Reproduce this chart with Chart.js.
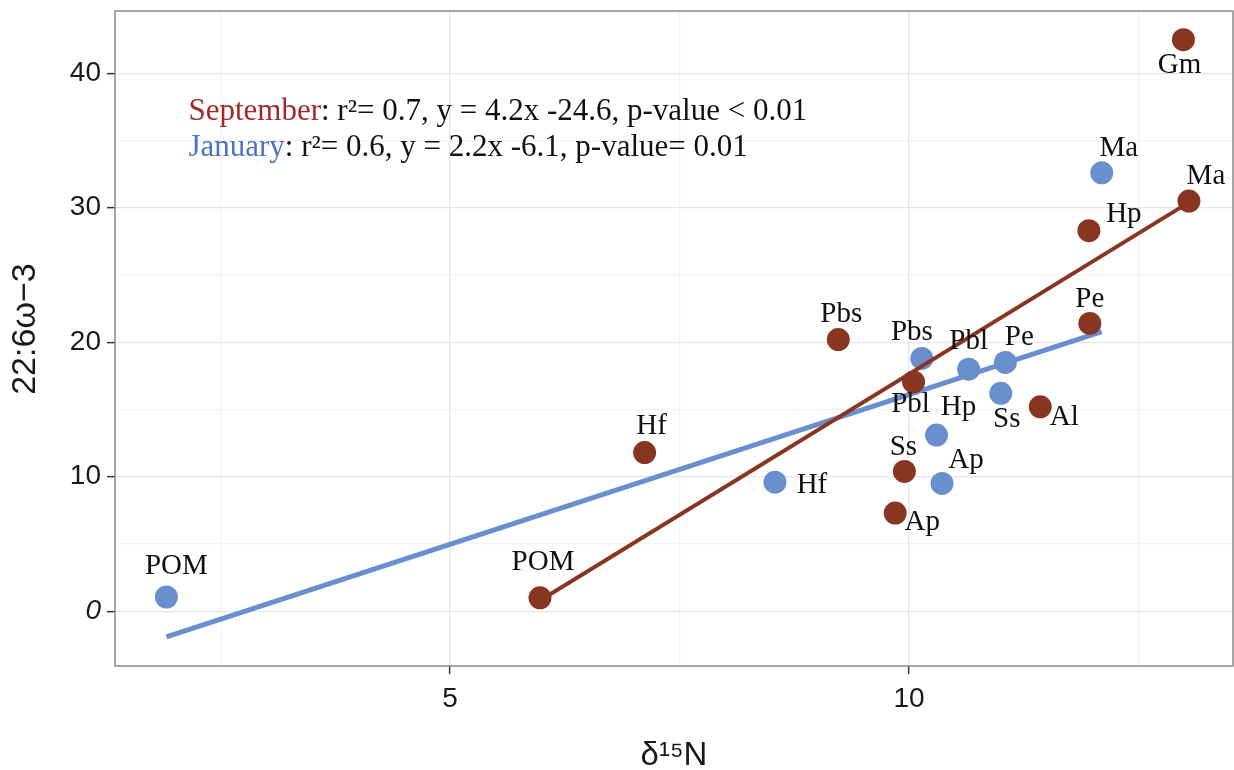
<!DOCTYPE html>
<html>
<head>
<meta charset="utf-8">
<script src="https://cdn.jsdelivr.net/npm/chart.js@4.4.1/dist/chart.umd.min.js"></script>
<style>
  html, body { margin: 0; padding: 0; background: #fff; }
  #wrap { width: 1234px; height: 770px; }
</style>
</head>
<body>
<div id="wrap"><canvas id="c" width="1234" height="770"></canvas></div>
<script>
// values
const sepLabels = ["POM", "Hf", "Pbs", "Pbl", "Ss", "Ap", "Al", "Pe", "Hp", "Ma", "Gm"];
const sepN15 = [5.98, 7.12, 9.23, 10.05, 9.95, 9.85, 11.43, 11.97, 11.96, 13.05, 12.99];
const sepDHA = [1.0, 11.8, 20.2, 17.05, 10.4, 7.3, 15.2, 21.4, 28.3, 30.5, 42.5];

const janLabels = ["POM", "Hf", "Pbs", "Pbl", "Pe", "Ss", "Hp", "Ap", "Ma"];
const janN15 = [1.91, 8.54, 10.14, 10.65, 11.05, 11.0, 10.3, 10.36, 12.1];
const janDHA = [1.06, 9.6, 18.8, 18.0, 18.5, 16.2, 13.1, 9.5, 32.6];

// fitted lines (end points as drawn)
const sepFitX = [5.98, 13.05];
const sepFitY = [0.8, 30.4];
const janFitX = [1.91, 12.1];
const janFitY = [-1.9, 20.8];

const xMajor = [5, 10];
const xMinor = [2.5, 7.5, 12.5];
const yMajor = [0, 10, 20, 30, 40];
const yMinor = [5, 15, 25, 35];

const sepStats = ": r\u00B2= 0.7, y = 4.2x -24.6, p-value < 0.01";
const janStats = ": r\u00B2= 0.6, y = 2.2x -6.1, p-value= 0.01";

// label placement (text centre dx, baseline dy, px from the point)
const sepLabelOff = [[3, -28], [7, -19], [3, -18], [-3, 30], [-1, -16], [27, 17], [24, 18], [0, -16], [35, -9], [17, -17], [-4, 33]];
const janLabelOff = [[10, -23], [37, 11], [-10, -18], [0, -20], [14, -17], [6, 34], [22, -20], [24, -15], [17, -17]];

const RED = "#883622";
const BLUE = "#6A8FCE";
const SANS = "'Liberation Sans', Arial, sans-serif";
const SERIF = "'Liberation Serif', 'Times New Roman', serif";

const toXY = (xs, ys) => xs.map((x, i) => ({ x: x, y: ys[i] }));

const pointLabels = {
  id: "pointLabels",
  afterDatasetsDraw(chart) {
    const ctx = chart.ctx;
    ctx.save();
    ctx.font = "29px " + SERIF;
    ctx.fillStyle = "#111";
    ctx.textAlign = "center";
    ctx.textBaseline = "alphabetic";
    chart.data.datasets.forEach((ds, di) => {
      if (!ds.pointNames) return;
      const meta = chart.getDatasetMeta(di);
      meta.data.forEach((el, i) => {
        const off = ds.labelOff[i];
        ctx.fillText(ds.pointNames[i], el.x + off[0], el.y + off[1]);
      });
    });

    // regression text
    const xs = chart.scales.x, ys = chart.scales.y;
    const x0 = xs.getPixelForValue(2.15);
    const lines = [
      ["September", "#A32A22", sepStats, ys.getPixelForValue(36.5)],
      ["January", "#4A74C4", janStats, ys.getPixelForValue(33.85)]
    ];
    ctx.font = "31px " + SERIF;
    ctx.textAlign = "left";
    lines.forEach(l => {
      ctx.fillStyle = l[1];
      ctx.fillText(l[0], x0, l[3]);
      const w = ctx.measureText(l[0]).width;
      ctx.fillStyle = "#111";
      ctx.fillText(l[2], x0 + w, l[3]);
    });
    ctx.restore();
  },
  afterDraw(chart) {
    const a = chart.chartArea;
    const ctx = chart.ctx;
    ctx.save();
    ctx.strokeStyle = "#8a8a8a";
    ctx.lineWidth = 1.5;
    ctx.strokeRect(a.left, a.top, a.right - a.left, a.bottom - a.top);
    ctx.restore();
  }
};

const gridColor = c => (c.tick && c.tick.major ? "#E6E6E6" : "#F3F3F3");
const tickColor = c => (c.tick && c.tick.major ? "#333" : "rgba(0,0,0,0)");
const noPad = s => { s.paddingTop = s.paddingBottom = s.paddingLeft = s.paddingRight = 0; };

new Chart(document.getElementById("c"), {
  type: "scatter",
  data: {
    datasets: [
      {
        label: "September",
        data: toXY(sepN15, sepDHA),
        pointNames: sepLabels,
        labelOff: sepLabelOff,
        backgroundColor: RED,
        borderColor: RED,
        borderWidth: 0,
        pointRadius: 11.5,
        order: 0
      },
      {
        type: "line",
        label: "September fit",
        data: toXY(sepFitX, sepFitY),
        borderColor: RED,
        borderWidth: 4,
        pointRadius: 0,
        fill: false,
        order: 1
      },
      {
        label: "January",
        data: toXY(janN15, janDHA),
        pointNames: janLabels,
        labelOff: janLabelOff,
        backgroundColor: BLUE,
        borderColor: BLUE,
        borderWidth: 0,
        pointRadius: 11.5,
        order: 2
      },
      {
        type: "line",
        label: "January fit",
        data: toXY(janFitX, janFitY),
        borderColor: BLUE,
        borderWidth: 5,
        pointRadius: 0,
        fill: false,
        order: 3
      }
    ]
  },
  options: {
    responsive: false,
    animation: false,
    events: [],
    layout: { autoPadding: false, padding: { top: 11, right: 1, left: 0, bottom: 0 } },
    plugins: { legend: { display: false }, tooltip: { enabled: false } },
    scales: {
      x: {
        type: "linear",
        min: 1.35,
        max: 13.53,
        afterBuildTicks: s => {
          s.ticks = xMinor.concat(xMajor).sort((a, b) => a - b)
            .map(v => ({ value: v, major: xMajor.includes(v) }));
        },
        afterFit: s => { s.height = 104; noPad(s); },
        border: { display: false },
        grid: { color: gridColor, lineWidth: 1.3, tickLength: 8, tickColor: tickColor, tickWidth: 1.5 },
        ticks: {
          autoSkip: false,
          maxRotation: 0,
          padding: 8,
          color: "#1a1a1a",
          font: { family: SANS, size: 28 },
          callback: v => (xMajor.includes(v) ? String(v) : "")
        },
        title: {
          display: true,
          text: "\u03B4\u00B9\u2075N",
          color: "#1a1a1a",
          font: { family: SANS, size: 33, lineHeight: 0.8 },
          padding: { top: 0, bottom: 1 }
        }
      },
      y: {
        type: "linear",
        min: -4.07,
        max: 44.63,
        afterBuildTicks: s => {
          s.ticks = yMinor.concat(yMajor).sort((a, b) => a - b)
            .map(v => ({ value: v, major: yMajor.includes(v) }));
        },
        afterFit: s => { s.width = 115; noPad(s); },
        border: { display: false },
        grid: { color: gridColor, lineWidth: 1.3, tickLength: 8, tickColor: tickColor, tickWidth: 1.5 },
        ticks: {
          autoSkip: false,
          padding: 6,
          color: "#1a1a1a",
          font: c => ({ family: SANS, size: 28, style: c.tick && c.tick.value === 0 ? "italic" : "normal" }),
          callback: v => (yMajor.includes(v) ? String(v) : "")
        },
        title: {
          display: true,
          text: "  22:6\u03C9\u22123",
          color: "#1a1a1a",
          font: { family: SANS, size: 34, lineHeight: 0.8 },
          padding: { top: 12, bottom: 0 }
        }
      }
    }
  },
  plugins: [pointLabels]
});
</script>
</body>
</html>
